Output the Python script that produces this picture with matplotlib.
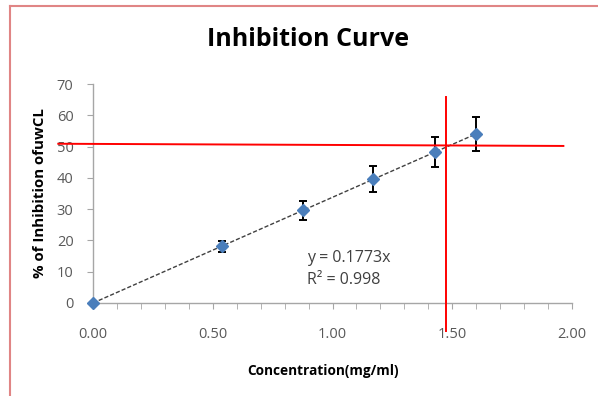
import matplotlib
matplotlib.use("Agg")
import matplotlib.pyplot as plt
from matplotlib.lines import Line2D
import numpy as np

# Data
concentration = [0.00, 0.54, 0.875, 1.17, 1.43, 1.60]
inhibition = [0.0, 18.1, 29.6, 39.7, 48.4, 53.9]
error = [0.0, 1.7, 3.1, 4.1, 4.8, 5.4]
x_ticks = [0.0, 0.5, 1.0, 1.5, 2.0]
x_tick_labels = ["0.00", "0.50", "1.00", "1.50", "2.00"]
y_ticks = [0, 10, 20, 30, 40, 50, 60, 70]
ic50_x = 1.475
ic50_y_left = 50.9
ic50_y_right = 50.2
equation_text = "y = 0.1773x"
r2_text = "R² = 0.998"

plt.rcParams['font.family'] = ['Open Sans', 'DejaVu Sans']

fig = plt.figure(figsize=(5.98, 3.96), dpi=100)
ax = fig.add_axes([93/598, 1-303/396, (572-93)/598, (303-84)/396])

x = np.array(concentration)
y = np.array(inhibition)
slope = np.sum(x*y)/np.sum(x*x)
xf = np.array([0, x.max()])
ax.plot(xf, slope*xf, color='#404040', lw=1.0, ls=(0, (3, 1.5)), zorder=2)

ax.errorbar(x, y, yerr=error, fmt='none', ecolor='black', elinewidth=1.4,
            capsize=3, capthick=1.4, zorder=3)
ax.plot(x, y, 'D', color='#4a7ebb', markersize=6, zorder=4, clip_on=False)

ax.set_xlim(0, 2.0)
ax.set_ylim(0, 70)
ax.set_xticks(x_ticks)
ax.set_xticklabels(x_tick_labels)
ax.set_xticks(np.arange(0, 2.0001, 0.1), minor=True)
ax.set_yticks(y_ticks)

for s in ['top', 'right']:
    ax.spines[s].set_visible(False)
for s in ['left', 'bottom']:
    ax.spines[s].set_color('#a6a6a6')
    ax.spines[s].set_linewidth(1.0)
ax.tick_params(axis='both', which='both', colors='#a6a6a6', labelcolor='#595959',
               labelsize=10.5, length=4, direction='out')
ax.tick_params(axis='x', which='both', length=4, pad=13)
ax.tick_params(axis='y', pad=10)

ax.set_xlabel("Concentration(mg/ml)", fontsize=9.8, fontweight='bold')
ax.xaxis.set_label_coords((323-93)/(572-93), -0.28)
ax.set_ylabel("% of Inhibition ofuwCL", fontsize=10.8, fontweight='bold', labelpad=7)

fig.text(308/598, 1-40/396, "Inhibition Curve", fontsize=18, fontweight='bold',
         ha='center', va='center', color='black')

ax.text(0.895, 14.5, equation_text, fontsize=11.5, color='#404040', va='center')
ax.text(0.895, 7.4, r2_text, fontsize=11.5, color='#404040', va='center')

# Red reference lines
ax.plot([-0.145, 1.964], [ic50_y_left, ic50_y_right], color='#ff0000', lw=1.4,
        clip_on=False, zorder=5)
ax.plot([ic50_x, ic50_x], [65.8, -9.0], color='#ff0000', lw=1.4,
        clip_on=False, zorder=5)

# Border
fig.add_artist(Line2D([10/598, 10/598], [0, 1-6/396], transform=fig.transFigure,
                      color='#e08585', lw=1.5))
fig.add_artist(Line2D([10/598, 1], [1-6/396, 1-6/396], transform=fig.transFigure,
                      color='#e08585', lw=1.5))

fig.savefig("out.png", dpi=100)
